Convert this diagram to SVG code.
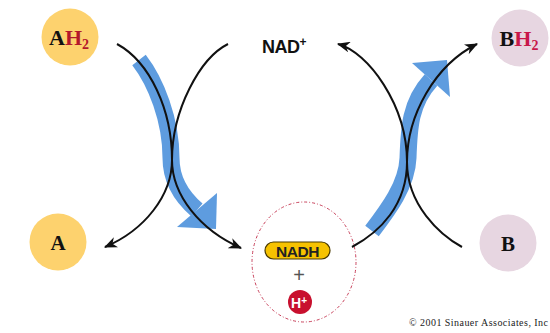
<svg xmlns="http://www.w3.org/2000/svg" width="550" height="333" viewBox="0 0 550 333">
<style>
.ser{font-family:"Liberation Serif","DejaVu Serif",serif;font-weight:bold}
.sans{font-family:"Liberation Sans",Arial,sans-serif;font-weight:bold}
.line{fill:none;stroke:#111;stroke-width:2}
.blue{fill:none;stroke:#5E9CDF;stroke-width:17}
.bluehead{fill:#5E9CDF}
.yel{fill:#FDD26E}
.pink{fill:#E7D6E1}
</style>
<defs>
<marker id="ah" markerUnits="userSpaceOnUse" viewBox="0 0 12 10" refX="11" refY="5" markerWidth="13" markerHeight="11" orient="auto">
<path d="M0,0 L12,5 L0,10 L3.5,5 z" fill="#111"/>
</marker>
</defs>
<rect width="550" height="333" fill="#fff"/>
<g id="AH2"><circle class="yel" cx="70" cy="37" r="28.5"/><text class="ser" x="69" y="45" font-size="22" text-anchor="middle"><tspan fill="#111">A</tspan><tspan fill="#B3182B">H</tspan><tspan fill="#B3182B" font-size="14" dy="4">2</tspan></text></g>
<g id="A"><circle class="yel" cx="58" cy="242" r="28.5"/><text class="ser" x="58" y="249.5" font-size="21" text-anchor="middle" fill="#111">A</text></g>
<g id="BH2"><circle class="pink" cx="520" cy="38" r="28.5"/><text class="ser" x="519" y="46" font-size="22" text-anchor="middle"><tspan fill="#111">B</tspan><tspan fill="#C8174A">H</tspan><tspan fill="#C8174A" font-size="14" dy="4">2</tspan></text></g>
<g id="B"><circle class="pink" cx="508" cy="243" r="28.5"/><text class="ser" x="508" y="250.5" font-size="21" text-anchor="middle" fill="#111">B</text></g>
<g id="NADplus"><text class="sans" x="262" y="53" font-size="18" fill="#111" letter-spacing="-0.5">NAD<tspan font-size="12" dy="-7">+</tspan></text></g>
<g id="NADH-group">
<ellipse cx="304" cy="262" rx="52" ry="60" fill="none" stroke="#C8405A" stroke-width="1" stroke-dasharray="3,2,1,2"/>
<rect x="265" y="242" width="65" height="17" rx="8.5" fill="#F6C200" stroke="#4A3A00" stroke-width="1.2"/>
<text class="sans" x="297.5" y="256.5" font-size="15.5" text-anchor="middle" fill="#222" letter-spacing="-0.4">NADH</text>
<text x="299" y="282" font-family="Liberation Sans,Arial,sans-serif" font-size="20" text-anchor="middle" fill="#555">+</text>
<circle cx="300" cy="302" r="12" fill="#C8102E"/>
<text class="sans" x="299" y="307.5" font-size="14" text-anchor="middle" fill="#fff">H<tspan font-size="10" dy="-4">+</tspan></text>
</g>
<g id="connectors">
<path class="blue" d="M139,60 C156,82 171,120 171,158 C171,182 183,198 197,210"/>
<polygon class="bluehead" points="177,227 217,193 216,229"/>
<path class="blue" d="M372,231 C388,210 407,185 408,158 C409,128 410,103 431,80"/>
<polygon class="bluehead" points="412,63 450,97 447,60"/>
<path class="line" d="M117,44 C150,62 172,110 172,160 C172,195 200,230 241,248" marker-end="url(#ah)"/>
<path class="line" d="M228,44 C200,58 172,110 172,160 C172,195 145,230 105,247" marker-end="url(#ah)"/>
<path class="line" d="M352,247 C380,232 407,205 407,162 C407,115 435,65 477,44" marker-end="url(#ah)"/>
<path class="line" d="M462,247 C440,235 407,205 407,162 C407,105 368,52 338,44" marker-end="url(#ah)"/>
</g>
<text x="548" y="326" font-family="Liberation Serif,Times New Roman,serif" font-size="10" text-anchor="end" textLength="139" lengthAdjust="spacing" fill="#222">© 2001 Sinauer Associates, Inc</text>
</svg>
